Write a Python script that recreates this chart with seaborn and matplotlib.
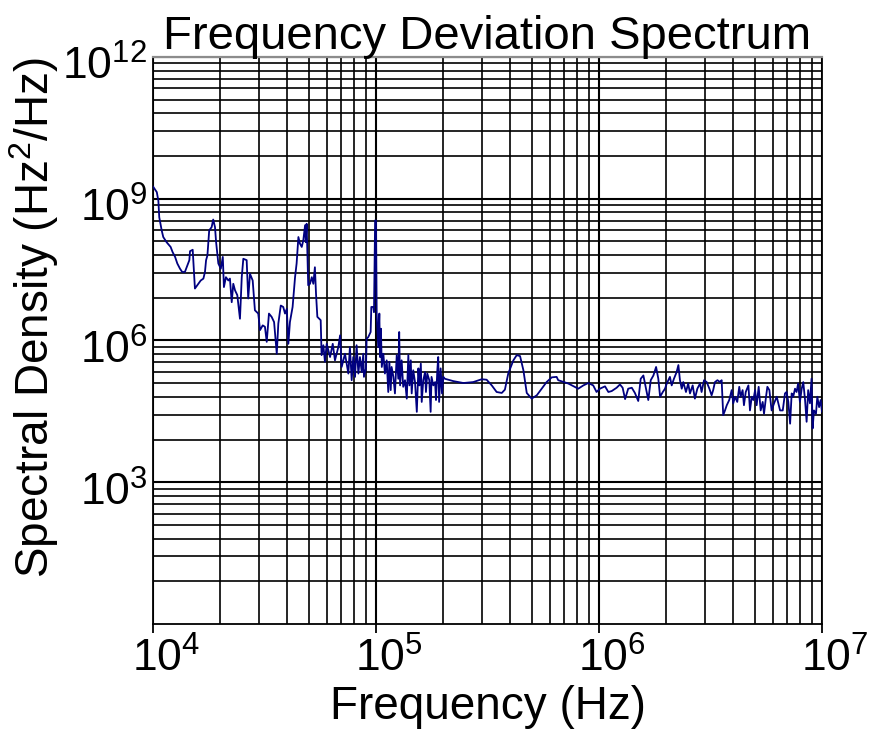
import numpy as np
import pandas as pd
import matplotlib
matplotlib.use("Agg")
import matplotlib.pyplot as plt
import seaborn as sns
from matplotlib import ticker
from matplotlib.transforms import ScaledTranslation

# Spectrum samples: log10(frequency / Hz) and log10(PSD / (Hz^2/Hz))
freq_exp_low = [4.000, 4.017, 4.024, 4.028, 4.039, 4.046, 4.061, 4.079, 4.088, 4.099,
                4.109, 4.121, 4.131, 4.143, 4.154, 4.163, 4.166, 4.178, 4.188, 4.203,
                4.214, 4.226, 4.233, 4.238, 4.244, 4.248, 4.252, 4.263, 4.270, 4.278,
                4.283, 4.293, 4.304, 4.313, 4.318, 4.327, 4.338, 4.345, 4.353, 4.360,
                4.368, 4.378, 4.390, 4.398, 4.405, 4.420, 4.427, 4.435, 4.447, 4.457,
                4.472, 4.480, 4.492, 4.502, 4.510, 4.520, 4.532, 4.543, 4.555, 4.562,
                4.573, 4.584, 4.592, 4.600, 4.607, 4.614, 4.626, 4.637, 4.644, 4.652,
                4.659, 4.667, 4.674, 4.682, 4.685, 4.689, 4.696, 4.704, 4.712, 4.719,
                4.726, 4.731, 4.737, 4.752, 4.756, 4.764, 4.771, 4.779, 4.794, 4.806,
                4.816, 4.831, 4.839, 4.846, 4.861, 4.876, 4.883]
psd_exp_low = [9.26, 9.14, 8.96, 8.61, 8.33, 8.19, 8.08, 7.98, 7.87, 7.77,
               7.63, 7.52, 7.45, 7.45, 7.59, 7.70, 7.89, 7.92, 7.10, 7.20,
               7.27, 7.31, 7.45, 7.70, 7.80, 8.05, 8.33, 8.40, 8.56, 8.40,
               8.08, 7.63, 7.52, 7.77, 7.13, 7.34, 7.27, 7.31, 6.81, 7.20,
               7.06, 6.96, 6.46, 7.34, 7.73, 7.70, 6.89, 7.41, 7.27, 6.64,
               6.57, 6.22, 6.32, 6.29, 5.97, 6.57, 6.50, 6.39, 5.72, 6.36,
               6.74, 6.71, 6.57, 6.67, 5.93, 6.39, 6.71, 7.34, 7.63, 8.19,
               8.05, 7.98, 8.12, 8.44, 8.08, 8.47, 7.17, 7.20, 7.34, 7.20,
               7.55, 6.99, 6.50, 6.43, 5.69, 5.90, 5.55, 5.93, 5.65, 5.93,
               5.58, 5.86, 6.11, 5.44, 5.72, 5.30, 5.86]

freq_exp_mid = [4.891, 4.898, 4.906, 4.913, 4.921, 4.928, 4.936, 4.943, 4.946, 4.955,
                4.958, 4.965, 4.976, 4.979, 4.988, 4.991, 4.996, 5.000, 5.003, 5.010,
                5.015, 5.018, 5.022, 5.026, 5.033, 5.040, 5.048, 5.055, 5.060, 5.066,
                5.070, 5.078, 5.085, 5.093, 5.100, 5.104, 5.108, 5.115, 5.122, 5.130,
                5.138, 5.145, 5.150, 5.156, 5.160, 5.167, 5.175, 5.183, 5.190, 5.195,
                5.201, 5.205, 5.212, 5.220, 5.224, 5.230, 5.239, 5.242, 5.245, 5.249,
                5.257, 5.265, 5.269, 5.275, 5.279, 5.283, 5.290, 5.296, 5.302, 5.309,
                5.347, 5.392, 5.436, 5.474, 5.496, 5.519, 5.541, 5.564, 5.578, 5.593,
                5.616, 5.631, 5.646, 5.661, 5.676, 5.698, 5.721, 5.743, 5.765, 5.788,
                5.810, 5.817, 5.862, 5.907, 5.930, 5.952, 5.974, 5.989, 6.004]
psd_exp_mid = [5.16, 5.65, 5.23, 5.90, 5.30, 5.65, 5.33, 5.72, 5.23, 5.41,
               6.04, 6.07, 6.18, 6.71, 6.71, 6.60, 8.54, 8.54, 6.57, 5.86,
               6.57, 5.65, 6.25, 5.44, 5.72, 5.30, 5.58, 4.91, 5.55, 4.95,
               5.44, 5.23, 4.88, 5.69, 5.19, 6.18, 5.05, 5.58, 5.02, 5.16,
               4.77, 5.69, 5.05, 5.58, 4.88, 5.37, 5.12, 4.49, 5.41, 5.05,
               5.51, 4.70, 5.16, 5.33, 4.91, 5.30, 5.16, 4.81, 4.49, 5.23,
               5.05, 5.12, 4.74, 5.37, 5.65, 4.70, 5.41, 4.88, 5.23, 5.19,
               5.14, 5.10, 5.12, 5.18, 5.17, 5.05, 4.91, 4.89, 4.96, 5.30,
               5.58, 5.69, 5.67, 5.37, 4.89, 4.77, 4.84, 4.98, 5.12, 5.22,
               5.23, 5.16, 5.09, 4.98, 5.05, 5.10, 5.05, 4.91, 4.98]

freq_exp_high = [6.027, 6.042, 6.057, 6.079, 6.094, 6.106, 6.117, 6.131, 6.147, 6.161,
                 6.176, 6.187, 6.199, 6.211, 6.221, 6.232, 6.244, 6.256, 6.266, 6.274,
                 6.286, 6.296, 6.304, 6.311, 6.318, 6.326, 6.336, 6.348, 6.356, 6.363,
                 6.371, 6.378, 6.390, 6.400, 6.408, 6.420, 6.430, 6.441, 6.453, 6.460,
                 6.471, 6.483, 6.495, 6.505, 6.512, 6.520, 6.531, 6.543, 6.550, 6.557,
                 6.565, 6.573, 6.584, 6.595, 6.602, 6.610, 6.620, 6.629, 6.635, 6.644,
                 6.650, 6.658, 6.670, 6.677, 6.685, 6.692, 6.700, 6.707, 6.716, 6.725,
                 6.734, 6.740, 6.749, 6.755, 6.764, 6.774, 6.785, 6.797, 6.812, 6.824,
                 6.834, 6.841, 6.849, 6.857, 6.864, 6.871, 6.879, 6.886, 6.893, 6.901,
                 6.909, 6.916, 6.924, 6.931, 6.938, 6.946, 6.953, 6.958, 6.964, 6.973,
                 6.979, 6.987, 6.994, 7.000]
psd_exp_high = [5.03, 4.91, 4.93, 5.00, 5.07, 5.00, 4.76, 4.98, 5.00, 4.89,
                4.72, 5.19, 5.26, 4.98, 4.74, 5.16, 5.26, 5.44, 5.19, 4.81,
                4.91, 4.98, 5.09, 5.16, 5.23, 5.05, 5.19, 5.33, 5.48, 5.16,
                4.98, 5.12, 4.91, 5.09, 4.88, 5.05, 4.77, 4.98, 5.09, 4.91,
                5.16, 5.12, 4.98, 4.84, 4.95, 5.12, 5.16, 5.12, 5.16, 4.42,
                4.52, 4.63, 4.74, 4.95, 4.67, 4.81, 4.70, 5.02, 4.81, 4.95,
                4.63, 4.91, 5.05, 4.52, 4.81, 4.74, 4.95, 4.63, 5.02, 4.52,
                4.70, 4.45, 4.81, 5.02, 4.95, 4.52, 4.67, 4.81, 4.52, 4.52,
                4.88, 4.91, 4.70, 4.24, 4.88, 4.81, 4.98, 4.91, 5.09, 4.70,
                4.98, 5.12, 4.74, 4.28, 4.95, 4.67, 5.19, 4.14, 4.52, 4.45,
                4.81, 4.59, 4.74, 4.49]

x_ticks = [1e4, 1e5, 1e6, 1e7]
y_ticks = [1e3, 1e6, 1e9, 1e12]
title = "Frequency Deviation Spectrum"
x_label = "Frequency (Hz)"
y_label = "Spectral Density (Hz$^{2}$/Hz)"

freq_exp = np.array(freq_exp_low + freq_exp_mid + freq_exp_high)
psd_exp = np.array(psd_exp_low + psd_exp_mid + psd_exp_high)
df = pd.DataFrame({"Frequency": 10.0 ** freq_exp, "PSD": 10.0 ** psd_exp})

sns.set_style("white")
plt.rcParams["font.family"] = ["Liberation Sans", "DejaVu Sans"]
plt.rcParams["mathtext.fontset"] = "custom"
plt.rcParams["mathtext.rm"] = "Liberation Sans"
plt.rcParams["mathtext.it"] = "Liberation Sans:italic"
plt.rcParams["mathtext.bf"] = "Liberation Sans:bold"
plt.rcParams["mathtext.default"] = "regular"
for key in ["text.color", "axes.labelcolor", "xtick.color", "ytick.color"]:
    plt.rcParams[key] = "black"

W, H = 871, 732
fig = plt.figure(figsize=(W / 100, H / 100), dpi=100)
fig.patch.set_facecolor("white")
ax = fig.add_axes([153 / W, 108 / H, 669 / W, 567 / H])

sns.lineplot(data=df, x="Frequency", y="PSD", sort=False, estimator=None,
             color="#000080", linewidth=1.3, ax=ax, zorder=3)

ax.set_xscale("log")
ax.set_yscale("log")
ax.set_xlim(1e4, 1e7)
ax.set_ylim(1, 1e12)

# x: decades with 2..9 minor lines
ax.xaxis.set_major_locator(ticker.FixedLocator(x_ticks))
ax.xaxis.set_minor_locator(ticker.LogLocator(base=10, subs=np.arange(2, 10), numticks=20))
ax.xaxis.set_major_formatter(ticker.LogFormatterSciNotation())
ax.xaxis.set_minor_formatter(ticker.NullFormatter())

# y: major every three decades, minor lines spread log-wise across each interval
y_minor = [base * m ** 3 for base in [1, 1e3, 1e6, 1e9] for m in range(2, 10)]
ax.yaxis.set_major_locator(ticker.FixedLocator(y_ticks))
ax.yaxis.set_minor_locator(ticker.FixedLocator(y_minor))
ax.yaxis.set_major_formatter(ticker.LogFormatterSciNotation())
ax.yaxis.set_minor_formatter(ticker.NullFormatter())

ax.grid(which="major", color="black", linewidth=1.5)
ax.grid(which="minor", color="black", linewidth=1.2)

ax.tick_params(axis="x", which="major", direction="out", length=6.5, width=1.3,
               color="black", labelsize=32, pad=3, bottom=True)
ax.tick_params(axis="x", which="minor", length=0)
ax.tick_params(axis="y", which="both", length=0, labelsize=32, pad=4)

for side in ["left", "bottom", "right"]:
    ax.spines[side].set_color("black")
    ax.spines[side].set_linewidth(1.3)
ax.spines["top"].set_color("#8c8c8c")
ax.spines["top"].set_linewidth(1.6)

ax.set_title(title, fontsize=34, pad=6)
ax.set_xlabel(x_label, fontsize=33)
ax.set_ylabel(y_label, fontsize=33)
ax.xaxis.set_label_coords(0.5, -0.108)
ax.yaxis.set_label_coords(-0.137, 0.54)

shift_x = ScaledTranslation(13 / 100, 0, fig.dpi_scale_trans)
for lab in ax.get_xticklabels():
    lab.set_transform(lab.get_transform() + shift_x)
shift_y = ScaledTranslation(0, -6 / 100, fig.dpi_scale_trans)
for lab in ax.get_yticklabels():
    lab.set_transform(lab.get_transform() + shift_y)

fig.savefig("out.png", dpi=100, facecolor="white")
